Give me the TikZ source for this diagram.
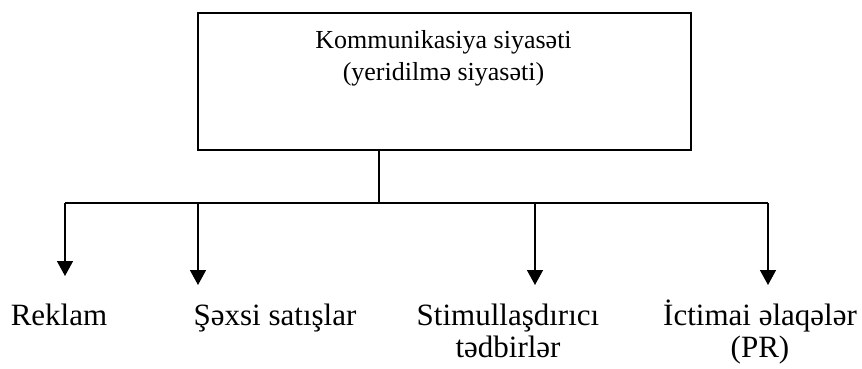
\documentclass[tikz,border=0pt]{standalone}
\usepackage{fontspec}
\setmainfont{Liberation Serif}
\usetikzlibrary{arrows.meta}
\begin{document}
\begin{tikzpicture}[x=1pt,y=-1pt,
  box/.style={draw,line width=1.8pt,minimum width=493pt,minimum height=137pt,inner sep=0pt,anchor=north west},
  boxtxt/.style={font=\fontsize{26}{32}\selectfont,align=center,inner sep=0pt,anchor=base},
  lbl/.style={font=\fontsize{31}{32}\selectfont,align=center,inner sep=0pt,anchor=base},
  conn/.style={line width=1.5pt},
  arr/.style={conn,-{Triangle[length=15pt,width=16pt]}}]
\useasboundingbox (0,0) rectangle (862,368);
\node[box] (top) at (197,12) {};
\node[boxtxt] (toptext) at (443.5,80) {Kommunikasiya siyasəti\\(yeridilmə siyasəti)};
\coordinate (stem) at (379,149);
\coordinate (j) at (379,203);
\coordinate (b1) at (65,203);
\coordinate (b2) at (198,203);
\coordinate (b3) at (535,203);
\coordinate (b4) at (768,203);
\node[lbl] (reklam) at (59,325) {Reklam};
\node[lbl] (sexsi) at (275,325) {Şəxsi satışlar};
\node[lbl] (stim) at (508,357) {Stimullaşdırıcı\\tədbirlər};
\node[lbl] (ictimai) at (760,357) {İctimai əlaqələr\\(PR)};
\coordinate (t1) at (65,276);
\coordinate (t2) at (198,285);
\coordinate (t3) at (535,285);
\coordinate (t4) at (768,285);
\draw[conn] (stem) -- (j);
\draw[conn] (b1) -- (b4);
\draw[arr] (b1) -- (t1);
\draw[arr] (b2) -- (t2);
\draw[arr] (b3) -- (t3);
\draw[arr] (b4) -- (t4);
\end{tikzpicture}
\end{document}
